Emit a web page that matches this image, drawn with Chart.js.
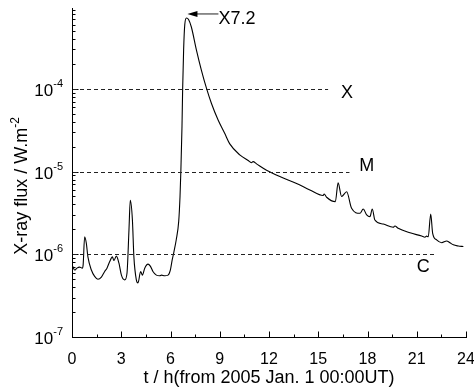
<!DOCTYPE html>
<html>
<head>
<meta charset="utf-8">
<script src="https://cdn.jsdelivr.net/npm/chart.js@4"></script>
<style>
html,body{margin:0;padding:0;background:#fff;}
#wrap{width:474px;height:392px;}
</style>
</head>
<body>
<div id="wrap"><canvas id="c" width="474" height="392"></canvas></div>
<script>
const hours = [0.05,0.16,0.30,0.46,0.63,0.68,0.77,0.87,0.97,1.18,1.38,1.58,1.79,1.99,2.13,2.29,2.46,2.55,2.70,2.86,3.01,3.21,3.35,3.47,3.55,3.68,3.77,3.92,4.02,4.18,4.29,4.43,4.63,4.77,4.93,5.14,5.34,5.45,5.65,5.85,5.99,6.10,6.20,6.35,6.50,6.58,6.63,6.70,6.74,6.80,6.87,6.97,7.10,7.27,7.58,7.88,8.19,8.49,8.90,9.30,9.61,10.22,10.73,10.93,11.03,11.24,11.85,12.66,13.68,14.49,15.30,15.36,15.51,16.04,16.21,16.42,16.73,17.03,17.54,17.74,17.95,18.15,18.29,18.45,18.96,19.57,19.67,19.87,20.59,21.30,21.50,21.60,21.70,21.85,21.97,22.21,22.52,22.82,23.02,23.23,23.53,23.84];
const flux = [7.1e-7,6.45e-7,6.8e-7,7.0e-7,6.8e-7,7.5e-7,1.63e-6,1.37e-6,9.3e-7,6.45e-7,5.4e-7,5.0e-7,5.3e-7,6.2e-7,6.8e-7,8.1e-7,9.3e-7,8.4e-7,9.5e-7,7.8e-7,5.6e-7,4.9e-7,5.9e-7,1.97e-6,4.5e-6,2.6e-6,9.3e-7,4.9e-7,4.5e-7,6.2e-7,5.6e-7,6.8e-7,7.6e-7,7.2e-7,6.2e-7,5.6e-7,5.5e-7,5.6e-7,5.5e-7,5.6e-7,6.45e-7,8.5e-7,1.05e-6,1.5e-6,2.5e-6,5e-6,1.0e-5,3.5e-5,1.0e-4,3.0e-4,6.0e-4,7.2e-4,6.9e-4,5.6e-4,2.95e-4,1.69e-4,1.02e-4,6.7e-5,4.2e-5,2.9e-5,2.16e-5,1.59e-5,1.36e-5,1.28e-5,1.32e-5,1.24e-5,1.04e-5,8.7e-6,7.2e-6,6.0e-6,5.14e-6,5.36e-6,4.89e-6,4.33e-6,7.3e-6,5.0e-6,5.7e-6,3.6e-6,3.13e-6,3.53e-6,2.99e-6,2.85e-6,3.53e-6,2.6e-6,2.32e-6,2.12e-6,2.2e-6,2.06e-6,1.82e-6,1.66e-6,1.61e-6,1.66e-6,1.63e-6,3.07e-6,1.79e-6,1.49e-6,1.38e-6,1.45e-6,1.38e-6,1.30e-6,1.26e-6,1.24e-6];
const xTicks = [0,3,6,9,12,15,18,21,24];
const yTickExps = [-7,-6,-5,-4];
const yTitleMain = 'X-ray flux / W.m';
const yTitleExp = '-2';
const classNames = ['X','M','C'];
const classLevels = [1e-4,1e-5,1e-6];
const classLineEnds = [15.6,16.9,22.2];
const classLabelX = [16.75,17.95,21.4];
const classLabelDy = [4,-6,13];
const peakLabel = 'X7.2';
const peakHour = 6.97;
const peakFlux = 7.2e-4;

const FONT = '"Liberation Sans", Arial, sans-serif';
const points = hours.map((h,i)=>({x:h,y:flux[i]}));

const decor = {
  id:'decor',
  afterDraw(chart){
    const ctx = chart.ctx, xs = chart.scales.x, ys = chart.scales.y;
    const ca = chart.chartArea;
    ctx.save();
    ctx.strokeStyle = '#000'; ctx.lineWidth = 1;
    ctx.beginPath();
    const x0 = Math.round(ca.left)+0.5, yb = Math.round(ca.bottom)+0.5;
    for (let e=-7; e<=-3; e++){
      for (let m=1; m<=9; m++){
        const v = m*Math.pow(10,e);
        if (v < ys.min*0.999 || v > ys.max) continue;
        const py = Math.round(ys.getPixelForValue(v))+0.5;
        const len = m===1 ? 6 : 3;
        ctx.moveTo(x0,py); ctx.lineTo(x0+len,py);
      }
    }
    for (let h=0; h<=24; h+=1.5){
      const px = Math.round(xs.getPixelForValue(h))+0.5;
      const len = (h%3===0) ? 6 : 3;
      ctx.moveTo(px,yb); ctx.lineTo(px,yb-len);
    }
    ctx.stroke();
    // y tick labels with superscript exponents
    ctx.fillStyle = '#000';
    ctx.textBaseline = 'alphabetic';
    yTickExps.forEach(e=>{
      const py = ys.getPixelForValue(Math.pow(10,e));
      const exp = String(e);
      ctx.font = '11px ' + FONT;
      const ew = ctx.measureText(exp).width;
      ctx.textAlign = 'right';
      ctx.fillText(exp, 63, py-2);
      ctx.font = '17px ' + FONT;
      ctx.fillText('10', 63-ew, py+7);
    });
    // y title (rotated) with superscript
    ctx.save();
    ctx.translate(27, 186);
    ctx.rotate(-Math.PI/2);
    ctx.font = '18px ' + FONT;
    const mw = ctx.measureText(yTitleMain).width;
    ctx.font = '12px ' + FONT;
    const sw = ctx.measureText(yTitleExp).width;
    const start = -(mw+sw)/2;
    ctx.textAlign = 'left';
    ctx.font = '18px ' + FONT;
    ctx.fillText(yTitleMain, start, 0);
    ctx.font = '12px ' + FONT;
    ctx.fillText(yTitleExp, start+mw, -8);
    ctx.restore();
    // class dashed lines
    ctx.setLineDash([4,3]);
    ctx.strokeStyle = '#222';
    classLevels.forEach((lv,i)=>{
      const py = Math.round(ys.getPixelForValue(lv))+0.5;
      ctx.beginPath();
      ctx.moveTo(xs.getPixelForValue(0)+1,py);
      ctx.lineTo(xs.getPixelForValue(classLineEnds[i]),py);
      ctx.stroke();
    });
    ctx.setLineDash([]);
    ctx.fillStyle = '#000';
    ctx.font = '18px ' + FONT;
    ctx.textAlign = 'center'; ctx.textBaseline = 'middle';
    classNames.forEach((n,i)=>{
      ctx.fillText(n, xs.getPixelForValue(classLabelX[i]), ys.getPixelForValue(classLevels[i])+classLabelDy[i]);
    });
    const pxp = xs.getPixelForValue(peakHour)+1, pyp = ys.getPixelForValue(peakFlux)-4;
    ctx.beginPath();
    ctx.moveTo(pxp+31,pyp); ctx.lineTo(pxp+8,pyp); ctx.stroke();
    ctx.beginPath();
    ctx.moveTo(pxp,pyp); ctx.lineTo(pxp+10,pyp-3); ctx.lineTo(pxp+10,pyp+3); ctx.closePath(); ctx.fill();
    ctx.textAlign = 'left';
    ctx.fillText(peakLabel, pxp+31, pyp+5);
    ctx.restore();
  }
};

new Chart(document.getElementById('c'), {
  type:'line',
  data:{datasets:[{data:points, borderColor:'#000', borderWidth:1.1, pointRadius:0, fill:false, cubicInterpolationMode:'monotone'}]},
  options:{
    responsive:false, animation:false, devicePixelRatio:1,
    layout:{padding:{top:8,right:8,left:0,bottom:0}},
    plugins:{legend:{display:false}, tooltip:{enabled:false}},
    scales:{
      x:{type:'linear', min:0, max:24,
         afterBuildTicks(s){s.ticks = xTicks.map(v=>({value:v}));},
         grid:{display:false},
         border:{display:true,color:'#000',width:1},
         ticks:{color:'#000', font:{family:FONT, size:16}, padding:5, maxRotation:0, autoSkip:false},
         title:{display:true, text:'t / h(from 2005 Jan. 1 00:00UT)', color:'#000', font:{family:FONT, size:18}, padding:{top:0,bottom:3}},
         afterFit(s){s.height = 55; s.paddingLeft = 0; s.paddingRight = 0;}
      },
      y:{type:'logarithmic', min:1e-7, max:9.5e-4,
         afterBuildTicks(s){s.ticks = yTickExps.map(e=>({value:Math.pow(10,e)}));},
         grid:{display:false},
         border:{display:true,color:'#000',width:1},
         ticks:{display:false},
         title:{display:false},
         afterFit(s){s.width = 72; s.paddingTop = 0; s.paddingBottom = 0;}
      }
    }
  },
  plugins:[decor]
});
</script>
</body>
</html>
